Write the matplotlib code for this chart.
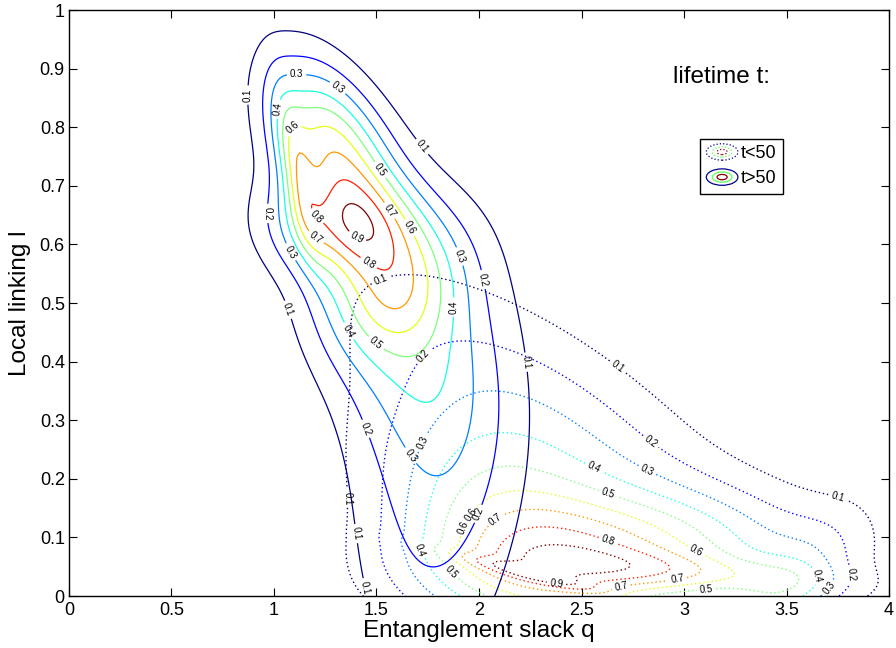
import numpy as np
import matplotlib
matplotlib.use("Agg")
import matplotlib.pyplot as plt
from matplotlib.patches import Ellipse
from matplotlib.legend_handler import HandlerBase

plt.rcParams['font.family'] = ['Liberation Sans', 'DejaVu Sans']

levels = [0.1, 0.2, 0.3, 0.4, 0.5, 0.6, 0.7, 0.8, 0.9]
xticks = [0, 0.5, 1, 1.5, 2, 2.5, 3, 3.5, 4]
yticks = [0, 0.1, 0.2, 0.3, 0.4, 0.5, 0.6, 0.7, 0.8, 0.9, 1]
legend_labels = ['t<50', 't>50']

# density blobs matched to the contour lines of the picture
# centre q, centre l, spread q, spread l, correlation, height
long_cq = [1.539, 1.284, 1.349, 1.798, 1.601, 1.114]
long_cl = [0.506, 0.764, 0.630, 0.212, 0.520, 0.723]
long_sq = [0.310, 0.212, 0.248, 0.301, 0.215, 0.076]
long_sl = [0.169, 0.105, 0.057, 0.270, 0.072, 0.092]
long_rho = [-0.434, -0.492, -0.098, 0.154, 0.242, -0.659]
long_w = [0.342, 0.554, 0.383, 0.230, 0.258, 0.268]

short_cq = [2.241, 3.007, 2.612, 3.417, 2.117, 2.408]
short_cl = [0.039, 0.040, 0.065, -0.040, 0.116, 0.269]
short_sq = [0.272, 0.491, 0.632, 0.255, 0.420, 0.724]
short_sl = [0.025, 0.026, 0.074, 0.103, 0.131, 0.203]
short_rho = [-0.938, -0.425, 0.198, 0.730, -0.403, -0.751]
short_w = [0.180, 0.227, 0.455, 0.251, 0.454, 0.253]

# where the contour labels sit in the picture
long_label_at = [(0.87, 0.855), (1.08, 0.49), (1.41, 0.107), (1.72, 0.766), (2.25, 0.40),
                 (0.956, 0.653), (1.31, 0.867), (1.43, 0.283), (2.02, 0.54), (1.95, 0.147), (1.57, 0.024),
                 (1.11, 0.886), (1.07, 0.585), (1.91, 0.58), (1.74, 0.258),
                 (1.04, 0.83), (1.35, 0.449), (1.87, 0.493),
                 (1.09, 0.80), (1.53, 0.73), (1.48, 0.425),
                 (1.2, 0.61), (1.66, 0.628), (1.22, 0.653), (1.57, 0.659),
                 (1.47, 0.573), (1.41, 0.616)]
short_label_at = [(1.51, 0.548), (2.67, 0.389), (3.75, 0.17), (1.35, 0.167),
                  (1.73, 0.408), (2.83, 0.26), (3.86, 0.04), (1.94, 0.144),
                  (1.73, 0.26), (2.82, 0.215), (3.71, 0.013),
                  (2.56, 0.22), (3.66, 0.036), (1.71, 0.078),
                  (2.63, 0.175), (1.85, 0.036), (3.11, 0.01),
                  (3.06, 0.078), (1.94, 0.115), (2.1, 0.121), (2.97, 0.024),
                  (2.63, 0.096), (2.69, 0.022), (2.38, 0.027)]


def density(cq, cl, sq, sl, rho, w, X, Y):
    Z = np.zeros_like(X)
    for a, b, c, d, r, k in zip(cq, cl, sq, sl, rho, w):
        u = (X - a) / c
        v = (Y - b) / d
        Z += k * np.exp(-(u * u - 2 * r * u * v + v * v) / (2 * (1 - r * r)))
    return np.clip(Z, 0, None)


q = np.linspace(0, 4, 321)
l = np.linspace(0, 1, 241)
Q, L = np.meshgrid(q, l)
Z_long = density(long_cq, long_cl, long_sq, long_sl, long_rho, long_w, Q, L)
Z_short = density(short_cq, short_cl, short_sq, short_sl, short_rho, short_w, Q, L)


class RingsHandler(HandlerBase):
    def __init__(self, ls):
        super().__init__()
        self.ls = ls

    def create_artists(self, legend, orig, xd, yd, w, h, fs, trans):
        cx, cy = xd + w / 2, yd + h / 2
        out = []
        for f, col in zip([1.0, 0.62, 0.32], ['#00008f', '#60ff60', '#8f0000']):
            out.append(Ellipse((cx, cy), w * f, h * 1.3 * f, fill=False, edgecolor=col,
                               linestyle=self.ls, linewidth=0.9, transform=trans))
        return out


fig = plt.figure(figsize=(8.96, 6.48), dpi=100)
ax = fig.add_axes([0.077, 0.0802, 0.9152, 0.9043])

cs_short = ax.contour(Q, L, Z_short, levels=levels, cmap='jet', linestyles=[(0, (1, 2))], linewidths=1.0)
cs_long = ax.contour(Q, L, Z_long, levels=levels, cmap='jet', linestyles='-', linewidths=0.9)
ax.set_xlim(0, 4)
ax.set_ylim(0, 1)
ax.clabel(cs_short, fmt='%.1f', fontsize=7, colors='k', inline=True, inline_spacing=3, manual=short_label_at)
ax.clabel(cs_long, fmt='%.1f', fontsize=7, colors='k', inline=True, inline_spacing=3, manual=long_label_at)

ax.set_xticks(xticks)
ax.set_xticklabels([f'{t:g}' for t in xticks])
ax.set_yticks(yticks)
ax.set_yticklabels([f'{t:g}' for t in yticks])
ax.tick_params(direction='in', top=True, right=True, length=6, width=0.8, labelsize=13)
ax.tick_params(axis='x', pad=4)
ax.tick_params(axis='y', pad=3)
for s in ax.spines.values():
    s.set_linewidth(1.0)
ax.set_xlabel('Entanglement slack q', fontsize=17.5, labelpad=1)
ax.set_ylabel('Local linking l', fontsize=17.5, labelpad=6)

ax.text(2.945, 0.875, 'lifetime t:', fontsize=17.5, va='baseline')

h1 = plt.Line2D([], [])
h2 = plt.Line2D([], [])
ax.legend([h1, h2], legend_labels, handler_map={h1: RingsHandler(':'), h2: RingsHandler('-')},
          loc='upper left', bbox_to_anchor=(0.7695, 0.78), fontsize=13, frameon=True,
          fancybox=False, edgecolor='k', framealpha=1, handlelength=1.75, handletextpad=0.15,
          borderpad=0.35, labelspacing=0.45, borderaxespad=0).get_frame().set_linewidth(1.0)

fig.savefig('out.png', dpi=100)
